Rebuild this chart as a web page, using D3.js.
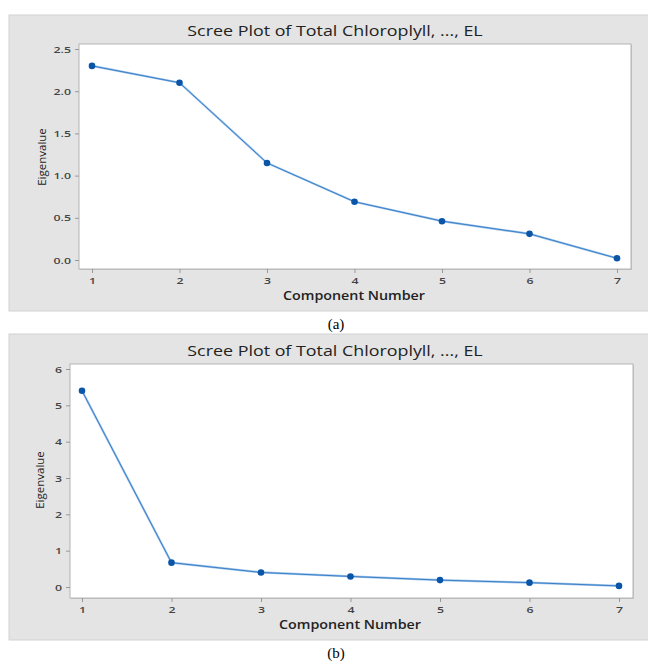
<!DOCTYPE html>
<html><head><meta charset="utf-8">
<script src="https://cdn.jsdelivr.net/npm/d3@7"></script>
<style>body{margin:0;background:#fff}svg{display:block}</style>
</head><body>
<svg id="c" width="648" height="661"></svg>
<script>
const components = [1, 2, 3, 4, 5, 6, 7];
const eigenA = [2.30, 2.10, 1.15, 0.69, 0.46, 0.31, 0.02];
const eigenB = [5.40, 0.67, 0.40, 0.29, 0.19, 0.12, 0.03];
const yTicksA = [0.0, 0.5, 1.0, 1.5, 2.0, 2.5];
const yTicksB = [0, 1, 2, 3, 4, 5, 6];
const title = "Scree Plot of Total Chloroplyll, ..., EL";
const xTitle = "Component Number";
const yTitle = "Eigenvalue";
const captions = ["(a)", "(b)"];

const svg = d3.select("#c");
const font = "'Open Sans', 'Noto Sans', sans-serif";

function stretch(sel, factor) {
  sel.each(function() {
    const L = this.getComputedTextLength();
    d3.select(this).attr("textLength", L * factor).attr("lengthAdjust", "spacingAndGlyphs");
  });
}

const panels = [
  {data: eigenA, ticks: yTicksA, fmt: d3.format(".1f"), cap: captions[0],
   box: {x: 9, y: 15, w: 640, h: 296},
   plot: {l: 79, r: 631, t: 44, b: 269},
   xr: [92, 617], yr: [260, 49], yd: [0, 2.5],
   titleY: 36, xtY: 283, xTitleX: 354, xTitleY: 300, yTitleX: 46, yTitleY: 157, capY: 329},
  {data: eigenB, ticks: yTicksB, fmt: d3.format("d"), cap: captions[1],
   box: {x: 9, y: 334, w: 640, h: 306},
   plot: {l: 70, r: 633, t: 364, b: 598},
   xr: [82, 619], yr: [587, 369], yd: [0, 6],
   titleY: 356, xtY: 611, xTitleX: 350, xTitleY: 629, yTitleX: 44, yTitleY: 480, capY: 658}
];

panels.forEach(p => {
  const g = svg.append("g");
  g.append("rect").attr("x", p.box.x).attr("y", p.box.y).attr("width", p.box.w).attr("height", p.box.h)
    .attr("fill", "#e4e4e4").attr("stroke", "#d2d2d2").attr("stroke-width", 1);
  g.append("rect").attr("x", p.plot.l + 1).attr("y", p.plot.t + 1)
    .attr("width", p.plot.r - p.plot.l).attr("height", p.plot.b - p.plot.t)
    .attr("fill", "#c4c4c4");
  g.append("rect").attr("x", p.plot.l).attr("y", p.plot.t)
    .attr("width", p.plot.r - p.plot.l).attr("height", p.plot.b - p.plot.t)
    .attr("fill", "#fff").attr("stroke", "#b4b4b4").attr("stroke-width", 1);

  const x = d3.scaleLinear().domain([1, 7]).range(p.xr);
  const y = d3.scaleLinear().domain(p.yd).range(p.yr);

  const ya = d3.axisLeft(y).tickValues(p.ticks).tickFormat(p.fmt).tickSize(4).tickPadding(4);
  const yg = g.append("g").attr("transform", `translate(${p.plot.l},0)`).call(ya);
  yg.select(".domain").remove();
  yg.selectAll("line").attr("stroke", "#999");
  yg.selectAll("text").attr("font-family", font).attr("font-size", 9.5).attr("font-weight", 600).attr("fill", "#444");
  stretch(yg.selectAll("text"), 1.3);

  const xa = d3.axisBottom(x).tickValues(components).tickFormat(d3.format("d")).tickSize(4).tickPadding(4);
  const xg = g.append("g").attr("transform", `translate(0,${p.plot.b})`).call(xa);
  xg.select(".domain").remove();
  xg.selectAll("line").attr("stroke", "#999");
  xg.selectAll("text").attr("font-family", font).attr("font-size", 9.5).attr("font-weight", 600).attr("fill", "#444");
  stretch(xg.selectAll("text"), 1.3);

  const line = d3.line().x((d, i) => x(components[i])).y(d => y(d));
  g.append("path").datum(p.data).attr("d", line).attr("fill", "none")
    .attr("stroke", "#9cc3ea").attr("stroke-width", 2.2);
  g.append("path").datum(p.data).attr("d", line).attr("fill", "none")
    .attr("stroke", "#3a7fc8").attr("stroke-width", 1);
  g.selectAll("circle.pt").data(p.data).join("circle").attr("class", "pt")
    .attr("cx", (d, i) => x(components[i])).attr("cy", d => y(d)).attr("r", 3.3)
    .attr("fill", "#0a55a8");

  const t = g.append("text").attr("x", 335).attr("y", p.titleY).attr("text-anchor", "middle")
    .attr("font-family", font).attr("font-size", 15).attr("font-weight", 500).attr("fill", "#222").text(title);
  stretch(t, 1.19);
  const xt = g.append("text").attr("x", p.xTitleX).attr("y", p.xTitleY).attr("text-anchor", "middle")
    .attr("font-family", font).attr("font-size", 12.5).attr("font-weight", 600).attr("fill", "#222").text(xTitle);
  xt.attr("textLength", 142).attr("lengthAdjust", "spacingAndGlyphs");
  g.append("text").attr("transform", `translate(${p.yTitleX},${p.yTitleY}) rotate(-90)`).attr("text-anchor", "middle")
    .attr("font-family", font).attr("font-size", 11.5).attr("fill", "#222").text(yTitle);
  g.append("text").attr("x", 336).attr("y", p.capY).attr("text-anchor", "middle")
    .attr("font-family", "'Liberation Serif', 'Times New Roman', serif").attr("font-size", 15).attr("fill", "#000").text(p.cap);
});
</script>
</body></html>
